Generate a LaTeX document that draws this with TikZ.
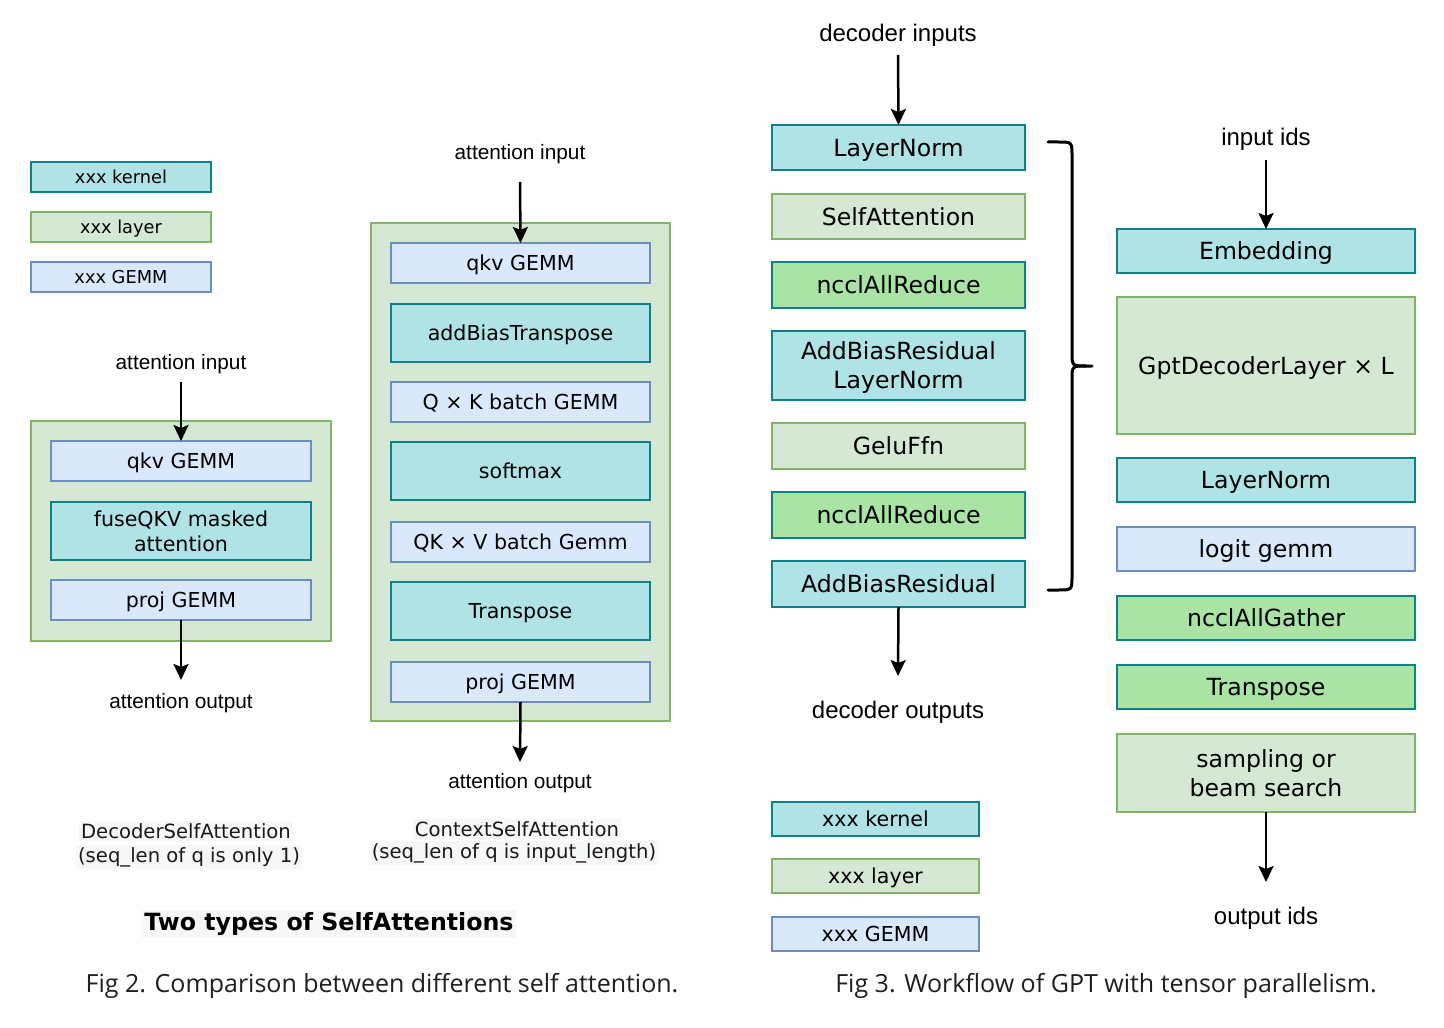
\documentclass[tikz,border=0pt]{standalone}
\usepackage{fontspec}
\setmainfont{DejaVu Sans}
\newfontfamily\lblf{Liberation Sans}
\newfontfamily\capf{Open Sans}
\usetikzlibrary{arrows.meta}
\definecolor{kfill}{HTML}{B0E3E6}
\definecolor{kdraw}{HTML}{0E8088}
\definecolor{lfill}{HTML}{D5E8D4}
\definecolor{ldraw}{HTML}{82B366}
\definecolor{gfill}{HTML}{DAE8FC}
\definecolor{gdraw}{HTML}{6C8EBF}
\definecolor{nfill}{HTML}{A9E4A5}
\definecolor{txtbg}{HTML}{F6F7F8}
\tikzset{
  box/.style={draw, line width=0.75pt, inner sep=0pt, outer sep=0pt, align=center, text=black, text depth=0pt},
  kernel/.style={box, fill=kfill, draw=kdraw},
  layer/.style={box, fill=lfill, draw=ldraw},
  gemm/.style={box, fill=gfill, draw=gdraw},
  nccl/.style={box, fill=nfill, draw=kdraw},
  fnine/.style={font=\fontsize{8.9}{11}\selectfont},
  ften/.style={font=\fontsize{10.3}{12.5}\selectfont},
  ftwelve/.style={font=\fontsize{11.8}{14.5}\selectfont},
  lbl/.style={font=\lblf\fontsize{10.4}{12.5}\selectfont, inner sep=1pt, yshift=-1pt},
  lblbig/.style={font=\lblf\fontsize{12}{14}\selectfont, inner sep=1pt, yshift=-1pt},
  figcap/.style={font=\capf\fontsize{12.5}{15}\selectfont, text=black!88, inner sep=1pt, yshift=-1.5pt},
  subcap/.style={font=\fontsize{9.8}{12}\selectfont, fill=txtbg, inner sep=1pt, text=black!90},
  arr/.style={line width=1.25pt, -{Stealth[length=8pt,width=7.5pt,inset=1.5pt]}},
  bracestyle/.style={line width=1.5pt, line cap=round, line join=round}
}
\newcommand\bx[7]{\node[#2, minimum width={(#5-#3)*0.5pt}, minimum height={(#6-#4)*0.5pt}] (#1) at ({(#3+#5)/2},{(#4+#6)/2}) {#7};}
\begin{document}
\begin{tikzpicture}[x=0.5pt,y=-0.5pt]
\useasboundingbox (0,0) rectangle (1444,1027);
\fill[white] (0,0) rectangle (1444,1027);

% ---------- left legend
\bx{lk}{kernel,fnine}{31}{162}{211}{192}{xxx kernel}
\bx{ll}{layer,fnine}{31}{212}{211}{242}{xxx layer}
\bx{lg}{gemm,fnine}{31}{262}{211}{292}{xxx GEMM}

% ---------- decoder self attention
\node[lbl] (din) at (181,362) {attention input};
\bx{dbox}{layer}{31}{421}{331}{641}{}
\bx{dq}{gemm,ften}{51}{441}{311}{481}{qkv GEMM}
\bx{df}{kernel,ften}{51}{502}{311}{560}{fuseQKV masked\\attention}
\bx{dp}{gemm,ften}{51}{580}{311}{620}{proj GEMM}
\node[lbl] (dout) at (181,701) {attention output};
\coordinate (dinS) at (181,382);
\coordinate (doutE) at (181,680);
\draw[arr] (dinS) -- (dq.north);
\draw[arr] (dp.south) -- (doutE);

% ---------- context self attention
\node[lbl] (cin) at (520,152) {attention input};
\bx{cbox}{layer}{371}{223}{670}{721}{}
\bx{cq}{gemm,ften}{391}{243}{650}{283}{qkv GEMM}
\bx{cab}{kernel,ften}{391}{304}{650}{362}{addBiasTranspose}
\bx{cqk}{gemm,ften}{391}{382}{650}{422}{Q × K batch GEMM}
\bx{csm}{kernel,ften}{391}{442}{650}{500}{softmax}
\bx{cqkv}{gemm,ften}{391}{522}{650}{562}{QK × V batch Gemm}
\bx{ctr}{kernel,ften}{391}{582}{650}{640}{Transpose}
\bx{cp}{gemm,ften}{391}{662}{650}{702}{proj GEMM}
\node[lbl] (cout) at (520,781) {attention output};
\coordinate (cinS) at (520,182);
\coordinate (coutE) at (520,762);
\draw[arr] (cinS) -- (cq.north);
\draw[arr] (cp.south) -- (coutE);

% ---------- captions left
\node[subcap] (s1a) at (186,831) {DecoderSelfAttention};
\node[subcap] (s1b) at (189,857) {(seq\_len of q is only 1)};
\node[subcap] (s2a) at (517,829) {ContextSelfAttention};
\node[subcap] (s2b) at (514,853) {(seq\_len of q is input\_length)};
\node[font=\bfseries\fontsize{11.85}{14}\selectfont, fill=txtbg, inner sep=1pt] (two) at (329,924) {Two types of SelfAttentions};
\node[figcap] (fig2) at (382,983) {Fig 2. Comparison between different self attention.};

% ---------- GPT decoder layer
\node[lblbig] (gin) at (898,33) {decoder inputs};
\bx{g1}{kernel,ftwelve}{772}{125}{1025}{170}{LayerNorm}
\bx{g2}{layer,ftwelve}{772}{194}{1025}{239}{SelfAttention}
\bx{g3}{nccl,ftwelve}{772}{262}{1025}{308}{ncclAllReduce}
\bx{g4}{kernel,ftwelve}{772}{331}{1025}{400}{AddBiasResidual\\LayerNorm}
\bx{g5}{layer,ftwelve}{772}{423}{1025}{469}{GeluFfn}
\bx{g6}{nccl,ftwelve}{772}{492}{1025}{538}{ncclAllReduce}
\bx{g7}{kernel,ftwelve}{772}{561}{1025}{607}{AddBiasResidual}
\node[lblbig] (gout) at (898,710) {decoder outputs};
\coordinate (ginS) at (898,55);
\coordinate (goutE) at (898,676);
\draw[arr] (ginS) -- (g1.north);
\draw[arr] (g7.south) -- (goutE);

% brace
\draw[bracestyle] (1048,142) -- (1058,142) .. controls (1072,142) .. (1072,156) -- (1072,352)
  .. controls (1072,366) .. (1086,366) -- (1092,366);
\draw[bracestyle] (1086,366) .. controls (1072,366) .. (1072,380) -- (1072,576)
  .. controls (1072,590) .. (1058,590) -- (1048,590);

% right legend
\bx{rk}{kernel,ften}{772}{802}{979}{836}{xxx kernel}
\bx{rl}{layer,ften}{772}{859}{979}{893}{xxx layer}
\bx{rg}{gemm,ften}{772}{917}{979}{951}{xxx GEMM}

% ---------- GPT workflow
\node[lblbig] (iin) at (1266,137) {input ids};
\bx{w1}{kernel,ftwelve}{1117}{229}{1415}{273}{Embedding}
\bx{w2}{layer,ftwelve}{1117}{297}{1415}{434}{GptDecoderLayer × L}
\bx{w3}{kernel,ftwelve}{1117}{458}{1415}{502}{LayerNorm}
\bx{w4}{gemm,ftwelve}{1117}{527}{1415}{571}{logit gemm}
\bx{w5}{nccl,ftwelve}{1117}{596}{1415}{640}{ncclAllGather}
\bx{w6}{nccl,ftwelve}{1117}{665}{1415}{709}{Transpose}
\bx{w7}{layer,ftwelve}{1117}{734}{1415}{812}{sampling or\\beam search}
\node[lblbig] (iout) at (1266,916) {output ids};
\coordinate (iinS) at (1266,160);
\coordinate (ioutE) at (1266,882);
\draw[arr] (iinS) -- (w1.north);
\draw[arr] (w7.south) -- (ioutE);

\node[figcap] (fig3) at (1106,983) {Fig 3. Workflow of GPT with tensor parallelism.};
\end{tikzpicture}
\end{document}
